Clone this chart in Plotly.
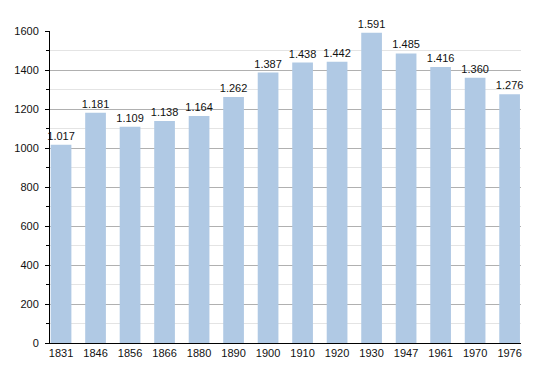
import plotly.graph_objects as go

years = ["1831", "1846", "1856", "1866", "1880", "1890", "1900", "1910", "1920", "1930", "1947", "1961", "1970", "1976"]
population = [1017, 1181, 1109, 1138, 1164, 1262, 1387, 1438, 1442, 1591, 1485, 1416, 1360, 1276]
labels = ["1.017", "1.181", "1.109", "1.138", "1.164", "1.262", "1.387", "1.438", "1.442", "1.591", "1.485", "1.416", "1.360", "1.276"]
y_ticks = [0, 200, 400, 600, 800, 1000, 1200, 1400, 1600]

fig = go.Figure(go.Bar(
    x=years, y=population, text=labels, textposition="outside",
    textfont=dict(size=11, color="#111"), constraintext="none",
    marker=dict(color="#b0c9e4", line=dict(width=0)),
    width=0.6, cliponaxis=False,
))

# page body has an 8px default margin; compensate so plot area sits at x 50-521, y 31-343
fig.update_layout(
    width=550, height=373,
    margin=dict(l=42, r=37, t=23, b=38, autoexpand=False),
    paper_bgcolor="white", plot_bgcolor="white",
    font=dict(family="Liberation Sans, Arial, sans-serif", size=11, color="#111"),
    showlegend=False,
    bargap=0.4,
)
fig.update_xaxes(
    type="category", range=[-0.32, 13.33], automargin=False,
    showline=True, linecolor="black", linewidth=1,
    ticks="", showgrid=False, tickfont=dict(size=11),
)
fig.update_yaxes(
    range=[0, 1600], tickvals=y_ticks, automargin=False,
    showline=True, linecolor="black", linewidth=1,
    ticks="outside", ticklen=4, tickcolor="black", ticklabelstandoff=4,
    showgrid=True, gridcolor="#b0b0b0", gridwidth=1,
    minor=dict(dtick=100, showgrid=True, gridcolor="#e4e4e4", ticks="outside", ticklen=3, tickcolor="black"),
    zeroline=False, tickfont=dict(size=11),
)

fig.write_html("out.html")
